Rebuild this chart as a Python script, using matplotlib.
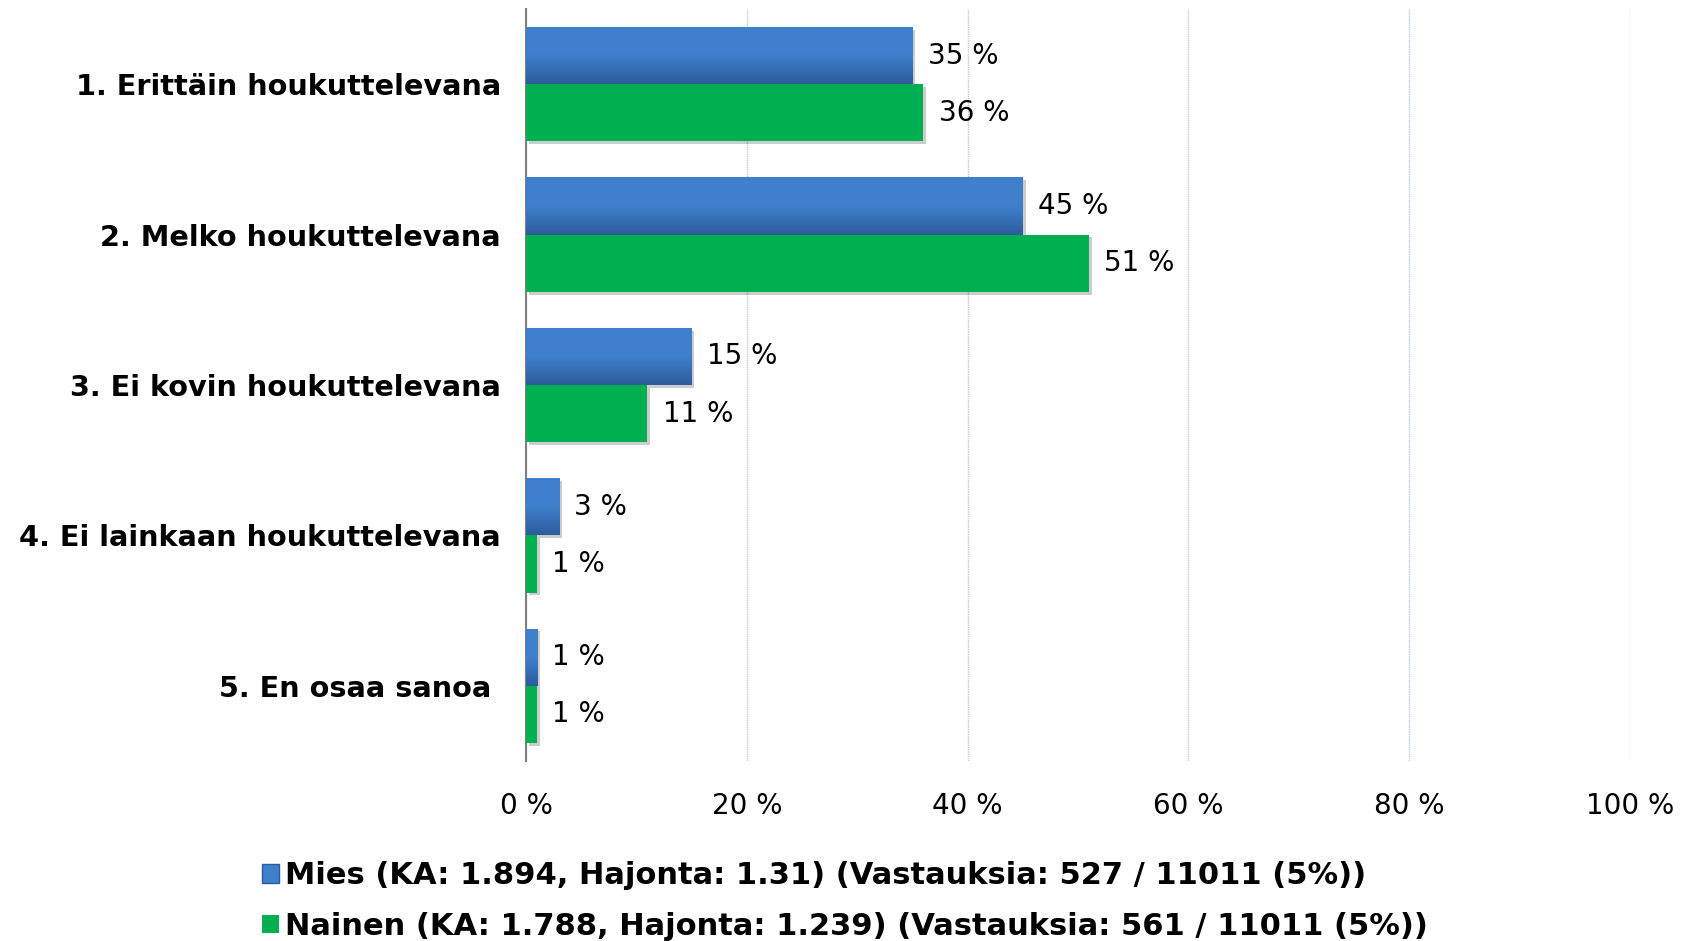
import numpy as np
import matplotlib
matplotlib.use("Agg")
import matplotlib.pyplot as plt
import matplotlib.patheffects as pe
from matplotlib.patches import Patch
from matplotlib.colors import LinearSegmentedColormap

plt.rcParams['font.family'] = ['DejaVu Sans']

categories = [
    "1. Erittäin houkuttelevana",
    "2. Melko houkuttelevana",
    "3. Ei kovin houkuttelevana",
    "4. Ei lainkaan houkuttelevana",
    "5. En osaa sanoa ",
]
mies = [35, 45, 15, 3, 1]
nainen = [36, 51, 11, 1, 1]
series_labels = [
    "Mies (KA: 1.894, Hajonta: 1.31) (Vastauksia: 527 / 11011 (5%))",
    "Nainen (KA: 1.788, Hajonta: 1.239) (Vastauksia: 561 / 11011 (5%))",
]
xticks = [0, 20, 40, 60, 80, 100]

BLUE_TOP = "#3F80CD"
BLUE_BOT = "#2D5C9C"
GREEN = "#00B050"

fig = plt.figure(figsize=(16.92, 9.41), dpi=100)
ax = fig.add_axes([526 / 1692, 1 - 761 / 941, (1630 - 526) / 1692, (761 - 9) / 941])

y = np.arange(len(categories))
h = 0.38
shadow = [pe.SimplePatchShadow(offset=(2, -2), alpha=0.2, shadow_rgbFace="black"), pe.Normal()]

blue_cmap = LinearSegmentedColormap.from_list("bl", [BLUE_TOP, BLUE_TOP, BLUE_BOT])
grad = np.linspace(0, 1, 64).reshape(-1, 1)

bars_m = ax.barh(y - h / 2, mies, height=h, color=BLUE_BOT, zorder=3, path_effects=shadow)
bars_n = ax.barh(y + h / 2, nainen, height=h, color=GREEN, zorder=3, path_effects=shadow)

# gradient fill on the blue bars
for b in bars_m:
    x0, y0 = b.get_x(), b.get_y()
    w, hh = b.get_width(), b.get_height()
    im = ax.imshow(grad, cmap=blue_cmap, aspect="auto", extent=[x0, x0 + w, y0 + hh, y0],
                   origin="upper", zorder=3.5, interpolation="bilinear")
    im.set_clip_path(b)

for bars, vals in [(bars_m, mies), (bars_n, nainen)]:
    for b, v in zip(bars, vals):
        ax.annotate(f"{v} %", (b.get_width(), b.get_y() + b.get_height() / 2),
                    xytext=(11, 0), textcoords="offset points", va="center", ha="left",
                    fontsize=20, color="black", zorder=5)

ax.set_xlim(0, 100)
ax.set_ylim(len(categories) - 0.5, -0.5)
ax.set_xticks(xticks)
ax.set_xticklabels([f"{t} %" for t in xticks], fontsize=20)
ax.set_yticks(y)
ax.set_yticklabels(categories, fontsize=20.7, fontweight="bold")
ax.tick_params(axis="x", length=0, pad=22)
ax.tick_params(axis="y", length=0, pad=18)
ax.xaxis.grid(True, color="#B8CCE4", linewidth=1.0, linestyle=(0, (1, 0.6)), zorder=0)
ax.set_axisbelow(True)
for s in ["top", "right", "bottom"]:
    ax.spines[s].set_visible(False)
ax.spines["left"].set_color("#808080")
ax.spines["left"].set_linewidth(1.5)

handles = [Patch(facecolor=BLUE_TOP, edgecolor=BLUE_BOT), Patch(facecolor=GREEN)]
fig.legend(handles, series_labels, loc="upper left", bbox_to_anchor=(250 / 1692, 1 - 849 / 941),
           frameon=False, prop={"size": 22, "weight": "bold"}, handlelength=0.55, handleheight=0.55,
           handletextpad=0.2, labelspacing=0.7, borderaxespad=0)

fig.savefig("out.png", dpi=100)
